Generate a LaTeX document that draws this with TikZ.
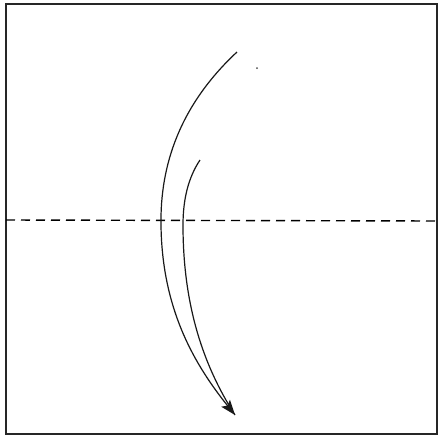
\documentclass[tikz,border=0pt]{standalone}
\usetikzlibrary{arrows.meta}
\begin{document}
\begin{tikzpicture}[x=1pt,y=-1pt,
  frame/.style={draw=black!85,line width=1.5pt},
  fold/.style={draw=black,line width=1.4pt,dash pattern=on 9pt off 6pt},
  curve/.style={draw=black!90,line width=1.2pt},
  tipstyle/.style={-{Stealth[length=15pt,width=11pt,inset=3pt]}}]
\useasboundingbox (0,0) rectangle (438,440);
\fill[white] (0,0) rectangle (438,440);
\draw[frame] (6,4) rectangle (437,434);
\coordinate (L) at (6,220);
\coordinate (R) at (438,221);
\draw[fold] (L) -- (R);
\coordinate (s1) at (237,52);
\coordinate (s2) at (200,160);
\coordinate (tip) at (235,415);
\draw[curve] (s2) .. controls (188,178) and (183,200) .. (183,225) .. controls (183,305) and (203,365) .. (tip);
\draw[curve,tipstyle] (s1) .. controls (180,105) and (160,165) .. (161,225) .. controls (162,310) and (195,365) .. (tip);
\fill[black!70] (257,68) circle (1pt);
\end{tikzpicture}
\end{document}
